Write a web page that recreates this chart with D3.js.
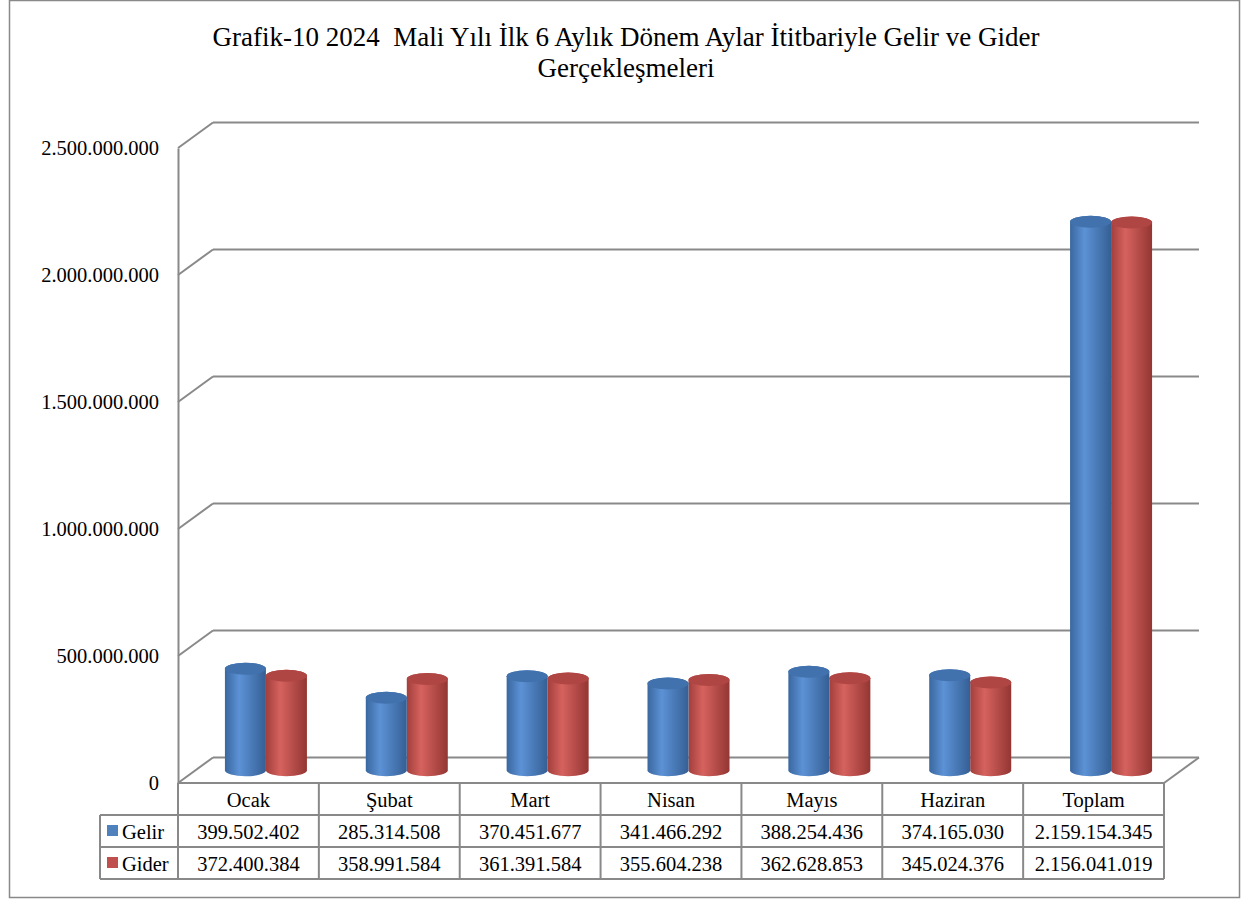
<!DOCTYPE html>
<html>
<head>
<meta charset="utf-8">
<script src="https://cdn.jsdelivr.net/npm/d3@7"></script>
<style>
  body { margin: 0; background: #fff; }
  text { font-family: "Liberation Serif", "Times New Roman", serif; fill: #000; }
</style>
</head>
<body>
<div id="chart"></div>
<script>
var categories = ["Ocak", "Şubat", "Mart", "Nisan", "Mayıs", "Haziran", "Toplam"];
var seriesNames = ["Gelir", "Gider"];
var gelir = [399502402, 285314508, 370451677, 341466292, 388254436, 374165030, 2159154345];
var gider = [372400384, 358991584, 361391584, 355604238, 362628853, 345024376, 2156041019];
var yTicks = [0, 500000000, 1000000000, 1500000000, 2000000000, 2500000000];
var titleLines = ["Grafik-10 2024  Mali Yılı İlk 6 Aylık Dönem Aylar İtitbariyle Gelir ve Gider", "Gerçekleşmeleri"];

var svg_width = 1241, svg_height = 900;
var gray = "#898989";

// front plane of the 3d box, and the depth shift to the back wall
var plot_left = 178, plot_right = 1164, plot_top = 148, plot_bottom = 783;
var depth_x = 35, depth_y = -25.5;

var fmt = d3.formatLocale({decimal: ",", thousands: ".", grouping: [3], currency: ["", ""]}).format(",d");

var svg = d3.select("#chart").append("svg")
    .attr("width", svg_width)
    .attr("height", svg_height);

var defs = svg.append("defs");
var colors = {
    Gelir: {edge: "#3a679f", mid: "#5c92d6", dark: "#355f94", cap: "#4272ad"},
    Gider: {edge: "#a23f3c", mid: "#d6625e", dark: "#933633", cap: "#b04643"}
};
seriesNames.forEach(function(s){
    var g = defs.append("linearGradient").attr("id", "grad_" + s)
        .attr("x1", "0").attr("x2", "1").attr("y1", "0").attr("y2", "0");
    g.append("stop").attr("offset", "0").attr("stop-color", colors[s].edge);
    g.append("stop").attr("offset", "0.35").attr("stop-color", colors[s].mid);
    g.append("stop").attr("offset", "1").attr("stop-color", colors[s].dark);
})

// outer frame
svg.append("rect")
    .attr("x", 9.5).attr("y", 0.5)
    .attr("width", 1230).attr("height", 897)
    .attr("fill", "none").attr("stroke", gray).attr("stroke-width", 1.5);

// title
svg.append("g").selectAll("text")
    .data(titleLines)
    .enter()
    .append("text")
    .attr("x", 626)
    .attr("y", (d, i) => 46 + i * 31)
    .attr("text-anchor", "middle")
    .style("font-size", "27px")
    .style("white-space", "pre")
    .text(d => d);

var y_scale = d3.scaleLinear()
    .domain([0, 2500000000])
    .range([plot_bottom, plot_top]);

var x_scale = d3.scaleBand()
    .domain(categories)
    .range([plot_left, plot_right]);

var cyl_w = 41;
var series_scale = d3.scaleBand()
    .domain(seriesNames)
    .range([-cyl_w, cyl_w]);

// back wall gridlines + side diagonals
var grid = svg.append("g");
grid.selectAll(".back")
    .data(yTicks)
    .enter()
    .append("line")
    .attr("x1", plot_left + depth_x).attr("x2", plot_right + depth_x)
    .attr("y1", d => y_scale(d) + depth_y).attr("y2", d => y_scale(d) + depth_y)
    .attr("stroke", gray).attr("stroke-width", 2);
grid.selectAll(".side")
    .data(yTicks)
    .enter()
    .append("line")
    .attr("x1", plot_left).attr("x2", plot_left + depth_x)
    .attr("y1", d => y_scale(d)).attr("y2", d => y_scale(d) + depth_y)
    .attr("stroke", gray).attr("stroke-width", 2);
// floor right edge
grid.append("line")
    .attr("x1", plot_right).attr("y1", plot_bottom)
    .attr("x2", plot_right + depth_x).attr("y2", plot_bottom + depth_y)
    .attr("stroke", gray).attr("stroke-width", 2);

var left_axis = d3.axisLeft(y_scale)
    .tickValues(yTicks)
    .tickSize(0)
    .tickSizeOuter(0)
    .tickPadding(19)
    .tickFormat(fmt);
var axis_g = svg.append("g")
    .attr("transform", `translate(${plot_left},0)`)
    .call(left_axis);
axis_g.select(".domain").attr("stroke", gray).attr("stroke-width", 2);
axis_g.selectAll("text")
    .style("font-family", "Liberation Serif, serif")
    .style("font-size", "20.5px")
    .attr("fill", "#000");

// cylinders
var bars = [];
categories.forEach(function(c, i){
    bars.push({cat: c, series: "Gider", value: gider[i]});
    bars.push({cat: c, series: "Gelir", value: gelir[i]});
})
var rx = cyl_w / 2, ry = 6;
var base_y = y_scale(0) + depth_y / 2;

var cyl = svg.append("g").selectAll("g")
    .data(bars)
    .enter()
    .append("g")
    .attr("transform", d => `translate(${x_scale(d.cat) + x_scale.bandwidth() / 2 + depth_x / 2 + series_scale(d.series) + rx},0)`);

cyl.append("path")
    .attr("d", function(d){
        var top_y = base_y - (y_scale(0) - y_scale(d.value));
        return `M${-rx},${top_y} L${-rx},${base_y} A${rx},${ry} 0 0 0 ${rx},${base_y} L${rx},${top_y} A${rx},${ry} 0 0 0 ${-rx},${top_y} Z`;
    })
    .attr("fill", d => `url(#grad_${d.series})`);

cyl.append("ellipse")
    .attr("cx", 0)
    .attr("cy", d => base_y - (y_scale(0) - y_scale(d.value)))
    .attr("rx", rx).attr("ry", ry)
    .attr("fill", d => colors[d.series].cap);

// data table
var row_h = 32;
var table = svg.append("g");
var values = {Gelir: gelir, Gider: gider};

// lines of the table
var h_lines = [
    [plot_left, plot_right, plot_bottom],
    [100, plot_right, plot_bottom + row_h],
    [100, plot_right, plot_bottom + row_h * 2],
    [100, plot_right, plot_bottom + row_h * 3]
];
table.selectAll(".hl")
    .data(h_lines)
    .enter()
    .append("line")
    .attr("x1", d => d[0]).attr("x2", d => d[1])
    .attr("y1", d => d[2]).attr("y2", d => d[2])
    .attr("stroke", gray).attr("stroke-width", 2);

var v_pos = categories.map(c => x_scale(c)).concat([plot_right]);
table.selectAll(".vl")
    .data(v_pos)
    .enter()
    .append("line")
    .attr("x1", d => d).attr("x2", d => d)
    .attr("y1", plot_bottom).attr("y2", plot_bottom + row_h * 3)
    .attr("stroke", gray).attr("stroke-width", 2);
table.append("line")
    .attr("x1", 100).attr("x2", 100)
    .attr("y1", plot_bottom + row_h).attr("y2", plot_bottom + row_h * 3)
    .attr("stroke", gray).attr("stroke-width", 2);

table.selectAll(".cat")
    .data(categories)
    .enter()
    .append("text")
    .attr("x", d => x_scale(d) + x_scale.bandwidth() / 2)
    .attr("y", plot_bottom + 24)
    .attr("text-anchor", "middle")
    .style("font-size", "20.5px")
    .text(d => d);

seriesNames.forEach(function(s, r){
    var row_y = plot_bottom + row_h * (r + 1);
    table.selectAll(".v" + s)
        .data(values[s])
        .enter()
        .append("text")
        .attr("x", (d, i) => x_scale(categories[i]) + x_scale.bandwidth() / 2)
        .attr("y", row_y + 24)
        .attr("text-anchor", "middle")
        .style("font-size", "20.5px")
        .text(d => fmt(d));
    table.append("rect")
        .attr("x", 107).attr("y", row_y + 10)
        .attr("width", 11).attr("height", 11)
        .attr("fill", s == "Gelir" ? "#4f81bd" : "#c0504d");
    table.append("text")
        .attr("x", 122)
        .attr("y", row_y + 24)
        .style("font-size", "20.5px")
        .text(s);
})
</script>
</body>
</html>
